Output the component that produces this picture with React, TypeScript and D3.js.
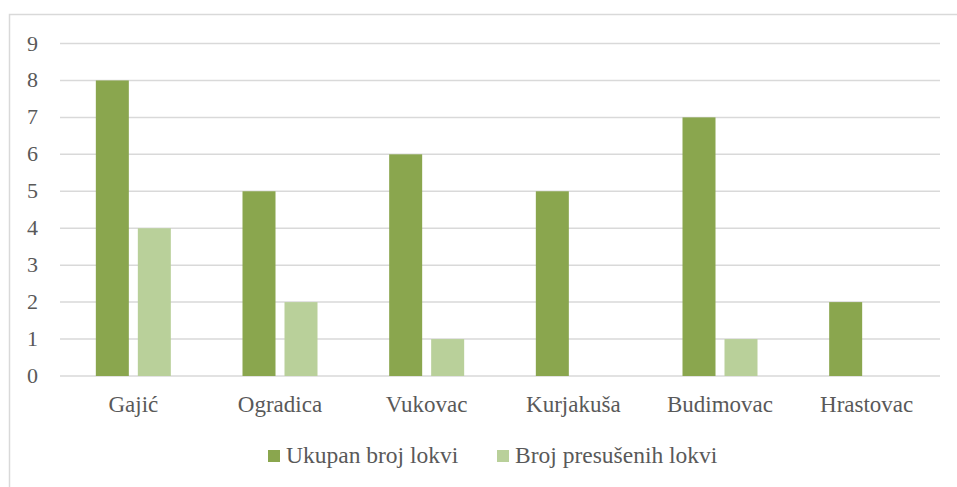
import { scaleBand, scaleLinear } from "d3";

const categories = ["Gajić", "Ogradica", "Vukovac", "Kurjakuša", "Budimovac", "Hrastovac"];
const ukupan = [8, 5, 6, 5, 7, 2];
const presuseni = [4, 2, 1, 0, 1, 0];
const yTicks = [0, 1, 2, 3, 4, 5, 6, 7, 8, 9];
const seriesNames = ["Ukupan broj lokvi", "Broj presušenih lokvi"];
const seriesColors = ["#8aa64e", "#b9d09a"];

export default function App() {
  const width = 957;
  const height = 487;
  const plotLeft = 60;
  const plotRight = 940;
  const plotTop = 43.5;
  const plotBottom = 376;
  const font = "'Times New Roman', 'Liberation Serif', 'DejaVu Serif', serif";

  const x = scaleBand().domain(categories).range([plotLeft, plotRight]);
  const y = scaleLinear().domain([0, 9]).range([plotBottom, plotTop]);

  const barWidth = 33;
  const innerGap = 9;
  const series = [ukupan, presuseni];

  return (
    <div style={{ position: "absolute", left: 0, top: 0 }}>
      <svg width={width} height={height} viewBox={`0 0 ${width} ${height}`} style={{ display: "block", fontFamily: font }}>
        <rect x={0} y={0} width={width} height={height} fill="#ffffff" />
        <rect x={9.5} y={14.5} width={960} height={490} fill="none" stroke="#d9d9d9" strokeWidth={1.5} />

        {yTicks.map((t) => (
          <g key={t}>
            <line x1={plotLeft} x2={plotRight} y1={y(t)} y2={y(t)} stroke="#d9d9d9" strokeWidth={1.5} />
            <text x={38} y={y(t) + 7} textAnchor="end" fill="#595959" fontSize={22}>
              {t}
            </text>
          </g>
        ))}

        {categories.map((c, i) => {
          const center = (x(c) ?? 0) + x.bandwidth() / 2;
          const groupStart = center - barWidth - innerGap / 2;
          return (
            <g key={c}>
              {series.map((vals, s) =>
                vals[i] > 0 ? (
                  <rect
                    key={s}
                    x={groupStart + s * (barWidth + innerGap)}
                    y={y(vals[i])}
                    width={barWidth}
                    height={y(0) - y(vals[i])}
                    fill={seriesColors[s]}
                  />
                ) : null
              )}
              <text x={center} y={412} textAnchor="middle" fill="#595959" fontSize={23}>
                {c}
              </text>
            </g>
          );
        })}

        {seriesNames.map((name, s) => {
          const lx = s === 0 ? 268 : 497;
          return (
            <g key={name}>
              <rect x={lx} y={450} width={12} height={12} fill={seriesColors[s]} />
              <text x={lx + 18} y={463} fill="#595959" fontSize={23.5}>
                {name}
              </text>
            </g>
          );
        })}
      </svg>
    </div>
  );
}
